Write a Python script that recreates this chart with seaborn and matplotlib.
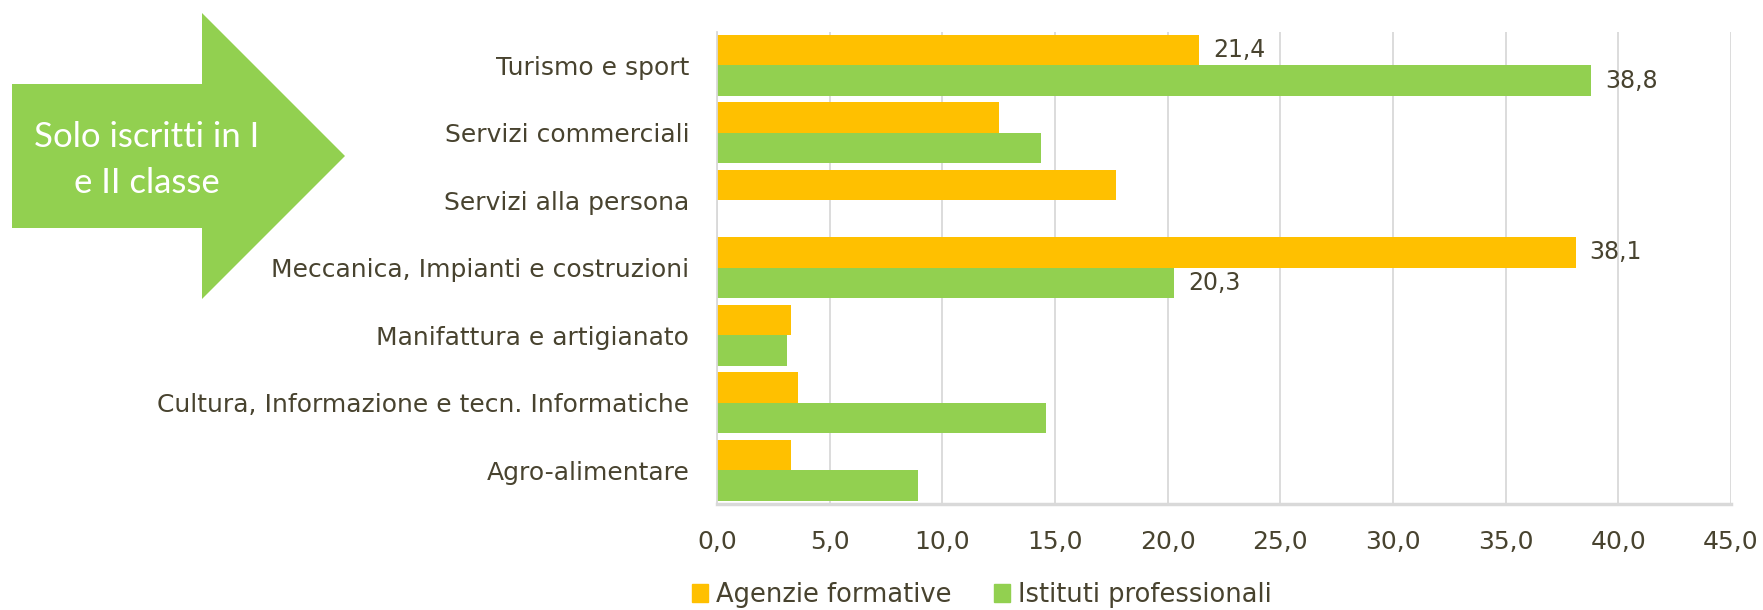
import numpy as np
import pandas as pd
import matplotlib
matplotlib.use("Agg")
import matplotlib.pyplot as plt
from matplotlib.patches import Polygon
from matplotlib.ticker import FuncFormatter, FixedLocator
import seaborn as sns

# dati
categorie = ["Turismo e sport", "Servizi commerciali", "Servizi alla persona",
             "Meccanica, Impianti e costruzioni", "Manifattura e artigianato",
             "Cultura, Informazione e tecn. Informatiche", "Agro-alimentare"]
agenzie = [21.4, 12.5, 17.7, 38.1, 3.3, 3.6, 3.3]
istituti = [38.8, 14.4, 0.0, 20.3, 3.1, 14.6, 8.9]
serie = ["Agenzie formative", "Istituti professionali"]
colori = ["#FFC000", "#92D050"]

df = pd.DataFrame({
    "categoria": categorie * 2,
    "valore": agenzie + istituti,
    "serie": [serie[0]] * len(categorie) + [serie[1]] * len(categorie),
})

sns.set_style("white")
testo = "#48432F"
griglia = "#D9D9D9"

W, H = 1763, 610
fig = plt.figure(figsize=(W / 100, H / 100), dpi=100)
ax = fig.add_axes([717 / W, 1 - 504 / H, (1731 - 717) / W, (504 - 31.5) / H])

sns.barplot(data=df, y="categoria", x="valore", hue="serie", orient="h",
            palette=colori, hue_order=serie, width=0.91, linewidth=0,
            saturation=1, legend=False, ax=ax)

ax.set_xlim(0, 45)
ax.set_ylim(6.5, -0.5)
ax.set_xticks(np.arange(0, 46, 5))
ax.xaxis.set_major_formatter(FuncFormatter(lambda v, p: f"{v:.1f}".replace(".", ",")))
ax.grid(axis="x", color=griglia, linewidth=1.3)
ax.set_axisbelow(True)
ax.set_xlabel("")
ax.set_ylabel("")

for s in ["top", "right"]:
    ax.spines[s].set_visible(False)
ax.spines["left"].set_color(griglia)
ax.spines["left"].set_linewidth(1.3)
ax.spines["bottom"].set_color(griglia)
ax.spines["bottom"].set_linewidth(2.5)

ax.tick_params(axis="x", colors=griglia, length=6, width=1.3, pad=13,
               labelcolor=testo, labelsize=18)
ax.tick_params(axis="y", which="major", length=0, pad=20, labelcolor=testo, labelsize=18)
ax.yaxis.set_minor_locator(FixedLocator(np.arange(-0.5, 7, 1)))
ax.tick_params(axis="y", which="minor", length=5, width=2, color=griglia)

# etichette solo per i valori maggiori
for cont, vals in zip(ax.containers, [agenzie, istituti]):
    lab = [f"{v:.1f}".replace(".", ",") if v > 20 else "" for v in vals]
    ax.bar_label(cont, labels=lab, padding=10, color=testo, fontsize=17)

# legenda
handles = [plt.Rectangle((0, 0), 1, 1, color=c) for c in colori]
fig.legend(handles, serie, loc="center left", bbox_to_anchor=(692 / W, 1 - 595 / H),
           ncol=2, frameon=False, fontsize=18.5, labelcolor=testo, borderpad=0,
           borderaxespad=0, handlelength=0.62, handleheight=0.7, handletextpad=0.3,
           columnspacing=1.67)

# freccia
pts = [(12, 84), (202, 84), (202, 13), (345, 156), (202, 299), (202, 228), (12, 228)]
freccia = Polygon([(x / W, 1 - y / H) for x, y in pts], closed=True,
                  transform=fig.transFigure, facecolor="#92D050", edgecolor="none")
fig.patches.append(freccia)
fig.text(147 / W, 1 - 160 / H, "Solo iscritti in I\ne II classe", color="white",
         ha="center", va="center", fontsize=25, family="Lato", linespacing=1.55)

fig.savefig("out.png", dpi=100)
